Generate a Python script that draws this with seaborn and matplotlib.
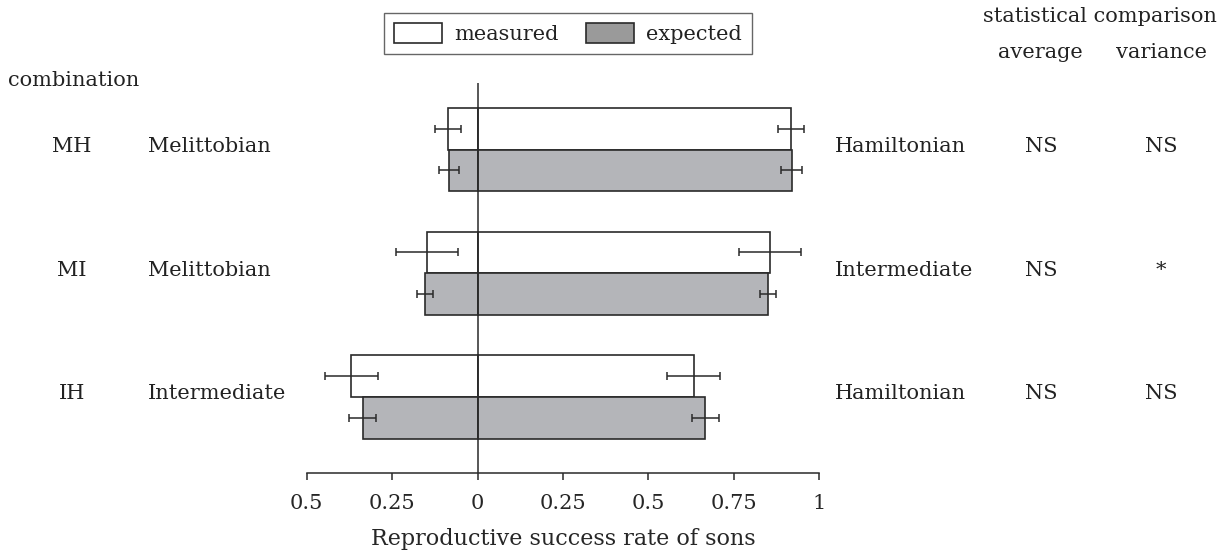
import numpy as np
import pandas as pd
import matplotlib
matplotlib.use("Agg")
import matplotlib.pyplot as plt
import seaborn as sns
from matplotlib.patches import Patch
from matplotlib import transforms

# ---------------- data ----------------
combinations = ["MH", "MI", "IH"]
left_strain = ["Melittobian", "Melittobian", "Intermediate"]
right_strain = ["Hamiltonian", "Intermediate", "Hamiltonian"]

measured_left = [0.085, 0.148, 0.370]
measured_right = [0.918, 0.857, 0.633]
expected_left = [0.083, 0.153, 0.336]
expected_right = [0.920, 0.850, 0.667]

measured_left_err = [0.038, 0.090, 0.078]
measured_right_err = [0.038, 0.090, 0.078]
expected_left_err = [0.029, 0.023, 0.040]
expected_right_err = [0.030, 0.023, 0.039]

test_average = ["NS", "NS", "NS"]
test_variance = ["NS", "*", "NS"]

tick_values = [-0.5, -0.25, 0, 0.25, 0.5, 0.75, 1]
tick_labels = ["0.5", "0.25", "0", "0.25", "0.5", "0.75", "1"]

series = ["measured", "expected"]
# --------------------------------------

sns.set_theme(style="white")
plt.rcParams["font.family"] = ["DejaVu Serif"]
plt.rcParams["text.color"] = "#222222"

FS = 15
W, H = 1226, 559
fig = plt.figure(figsize=(W / 100, H / 100), dpi=100)
ax = fig.add_axes([306.75 / W, (H - 473) / H, 512.25 / W, 390 / H])

left_df = pd.DataFrame({
    "combination": combinations * 2,
    "type": ["measured"] * 3 + ["expected"] * 3,
    "value": [-v for v in measured_left] + [-v for v in expected_left],
})
right_df = pd.DataFrame({
    "combination": combinations * 2,
    "type": ["measured"] * 3 + ["expected"] * 3,
    "value": measured_right + expected_right,
})

palette = {"measured": "white", "expected": "#b4b5b9"}
bar_kw = dict(x="value", y="combination", hue="type", order=combinations,
              hue_order=series, orient="h", palette=palette, width=0.674,
              dodge=True, errorbar=None, edgecolor="#2a2a2a", linewidth=1.2,
              legend=False, saturation=1, ax=ax)
sns.barplot(data=left_df, **bar_kw)
sns.barplot(data=right_df, **bar_kw)

# error bars at the bar ends, positioned from the drawn bars
errs = [measured_left_err, expected_left_err, measured_right_err, expected_right_err]
for cont, err in zip(ax.containers, errs):
    for bar, e in zip(cont.patches, err):
        yc = bar.get_y() + bar.get_height() / 2
        xe = bar.get_x() + bar.get_width()
        ax.errorbar(xe, yc, xerr=e, fmt="none", ecolor="#2a2a2a",
                    elinewidth=1.1, capsize=2.6, capthick=1.1, zorder=5)

ax.axvline(0, color="#2a2a2a", lw=1.1, zorder=6)

ax.set_xlim(-0.5, 1)
ax.set_ylim(2.615, -0.538)
ax.set_xticks(tick_values)
ax.set_xticklabels(tick_labels, fontsize=FS)
ax.set_yticks([])
ax.set_ylabel("")
ax.set_xlabel("Reproductive success rate of sons", fontsize=FS + 1, labelpad=11)
for s in ["top", "left", "right"]:
    ax.spines[s].set_visible(False)
ax.spines["bottom"].set_color("#2a2a2a")
ax.spines["bottom"].set_linewidth(1.1)
ax.tick_params(axis="x", direction="out", length=5, width=1.1, color="#2a2a2a",
               pad=10, bottom=True)
ax.set_facecolor("none")

# row labels
tr = transforms.blended_transform_factory(fig.transFigure, ax.transData)
tr = transforms.offset_copy(tr, fig=fig, y=3, units="dots")
for i, (c, l, r, a, v) in enumerate(zip(combinations, left_strain, right_strain,
                                         test_average, test_variance)):
    ax.text(72 / W, i, c, transform=tr, ha="center", va="center", fontsize=FS)
    ax.text(148 / W, i, l, transform=tr, ha="left", va="center", fontsize=FS)
    ax.text(835 / W, i, r, transform=tr, ha="left", va="center", fontsize=FS)
    ax.text(1041 / W, i, a, transform=tr, ha="center", va="center", fontsize=FS)
    ax.text(1161 / W, i, v, transform=tr, ha="center", va="center", fontsize=FS)

fig.text(74 / W, 1 - 81 / H, "combination", ha="center", va="center", fontsize=FS)
fig.text(1100 / W, 1 - 16 / H, "statistical comparison", ha="center", va="center", fontsize=FS)
fig.text(1040 / W, 1 - 53 / H, "average", ha="center", va="center", fontsize=FS)
fig.text(1162 / W, 1 - 53 / H, "variance", ha="center", va="center", fontsize=FS)

handles = [Patch(facecolor="white", edgecolor="#2a2a2a", linewidth=1.2, label="measured"),
           Patch(facecolor="#9a9a9a", edgecolor="#2a2a2a", linewidth=1.2, label="expected")]
leg = fig.legend(handles=handles, loc="center", bbox_to_anchor=(568 / W, 1 - 33.5 / H),
                 ncol=2, fontsize=FS, frameon=True, fancybox=False, framealpha=1,
                 edgecolor="#666666", handlelength=2.3, handleheight=1.1,
                 handletextpad=0.6, columnspacing=1.3, borderpad=0.5)
leg.get_frame().set_linewidth(1.0)

fig.savefig("out.png", dpi=100)
